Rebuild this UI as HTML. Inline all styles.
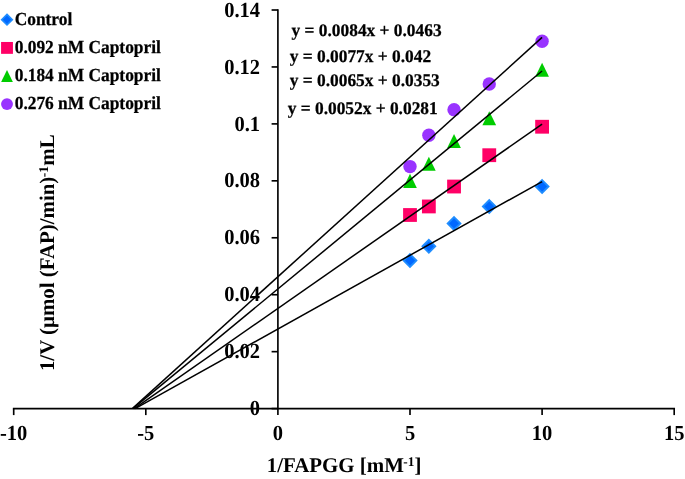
<!DOCTYPE html>
<html><head><meta charset="utf-8"><title>Lineweaver-Burk plot</title>
<style>
html,body{margin:0;padding:0;background:#fff}
svg{display:block;will-change:transform}
text{font-family:"Liberation Serif","Times New Roman",serif;font-weight:bold;fill:#000;text-rendering:geometricPrecision}
.ax{font-size:20.5px}
.lg{font-size:17.38px;stroke:#000;stroke-width:0.25px}
.tt{font-size:20.9px}
</style></head><body>
<svg width="685" height="479" viewBox="0 0 685 479">
<rect width="685" height="479" fill="#fff"/>
<g stroke="#000" stroke-width="1.65" fill="none">
<line x1="12.87" y1="408.60" x2="675.03" y2="408.60"/>
<line x1="277.90" y1="9.18" x2="277.90" y2="415.10"/>
<line x1="13.70" y1="408.60" x2="13.70" y2="415.10"/>
<line x1="145.80" y1="408.60" x2="145.80" y2="415.10"/>
<line x1="410.00" y1="408.60" x2="410.00" y2="415.10"/>
<line x1="542.10" y1="408.60" x2="542.10" y2="415.10"/>
<line x1="674.20" y1="408.60" x2="674.20" y2="415.10"/>
<line x1="271.60" y1="408.60" x2="277.90" y2="408.60"/>
<line x1="271.60" y1="351.66" x2="277.90" y2="351.66"/>
<line x1="271.60" y1="294.72" x2="277.90" y2="294.72"/>
<line x1="271.60" y1="237.77" x2="277.90" y2="237.77"/>
<line x1="271.60" y1="180.83" x2="277.90" y2="180.83"/>
<line x1="271.60" y1="123.89" x2="277.90" y2="123.89"/>
<line x1="271.60" y1="66.95" x2="277.90" y2="66.95"/>
<line x1="271.60" y1="10.01" x2="277.90" y2="10.01"/>
</g>
<text class="ax" transform="translate(13.70,439.65) scale(1,1.05)" text-anchor="middle">-10</text>
<text class="ax" transform="translate(145.80,439.65) scale(1,1.05)" text-anchor="middle">-5</text>
<text class="ax" transform="translate(277.90,439.65) scale(1,1.05)" text-anchor="middle">0</text>
<text class="ax" transform="translate(410.00,439.65) scale(1,1.05)" text-anchor="middle">5</text>
<text class="ax" transform="translate(542.10,439.65) scale(1,1.05)" text-anchor="middle">10</text>
<text class="ax" transform="translate(674.20,439.65) scale(1,1.05)" text-anchor="middle">15</text>
<text class="ax" transform="translate(260.0,414.60) scale(1,1.05)" text-anchor="end">0</text>
<text class="ax" transform="translate(260.0,357.80) scale(1,1.05)" text-anchor="end">0.02</text>
<text class="ax" transform="translate(260.0,301.00) scale(1,1.05)" text-anchor="end">0.04</text>
<text class="ax" transform="translate(260.0,244.20) scale(1,1.05)" text-anchor="end">0.06</text>
<text class="ax" transform="translate(260.0,187.40) scale(1,1.05)" text-anchor="end">0.08</text>
<text class="ax" transform="translate(260.0,130.60) scale(1,1.05)" text-anchor="end">0.1</text>
<text class="ax" transform="translate(260.0,73.81) scale(1,1.05)" text-anchor="end">0.12</text>
<text class="ax" transform="translate(260.0,17.01) scale(1,1.05)" text-anchor="end">0.14</text>
<path d="M410.00 254.19L416.36 260.55L410.00 266.91L403.64 260.55Z" fill="#0068ff" stroke="#1f8dff" stroke-width="1.90"/>
<path d="M428.86 239.96L435.22 246.32L428.86 252.67L422.51 246.32Z" fill="#0068ff" stroke="#1f8dff" stroke-width="1.90"/>
<path d="M454.04 217.18L460.40 223.54L454.04 229.90L447.69 223.54Z" fill="#0068ff" stroke="#1f8dff" stroke-width="1.90"/>
<path d="M489.26 200.10L495.62 206.46L489.26 212.81L482.90 206.46Z" fill="#0068ff" stroke="#1f8dff" stroke-width="1.90"/>
<path d="M542.10 180.17L548.46 186.53L542.10 192.88L535.74 186.53Z" fill="#0068ff" stroke="#1f8dff" stroke-width="1.90"/>
<rect x="403.10" y="208.10" width="13.80" height="13.80" fill="#ff0066"/>
<rect x="421.96" y="199.56" width="13.80" height="13.80" fill="#ff0066"/>
<rect x="447.14" y="179.63" width="13.80" height="13.80" fill="#ff0066"/>
<rect x="482.36" y="148.31" width="13.80" height="13.80" fill="#ff0066"/>
<rect x="535.20" y="119.84" width="13.80" height="13.80" fill="#ff0066"/>
<path d="M410.00 173.78L416.85 187.88L403.15 187.88Z" fill="#00cc00"/>
<path d="M428.86 156.70L435.71 170.80L422.01 170.80Z" fill="#00cc00"/>
<path d="M454.04 133.92L460.89 148.02L447.19 148.02Z" fill="#00cc00"/>
<path d="M489.26 111.15L496.11 125.25L482.41 125.25Z" fill="#00cc00"/>
<path d="M542.10 62.75L548.95 76.85L535.25 76.85Z" fill="#00cc00"/>
<circle cx="410.00" cy="166.60" r="6.70" fill="#9933ff"/>
<circle cx="428.86" cy="135.28" r="6.70" fill="#9933ff"/>
<circle cx="454.04" cy="109.65" r="6.70" fill="#9933ff"/>
<circle cx="489.26" cy="84.03" r="6.70" fill="#9933ff"/>
<circle cx="542.10" cy="41.32" r="6.70" fill="#9933ff"/>
<line x1="135.08" y1="408.60" x2="542.10" y2="181.57" stroke="#000" stroke-width="1.5"/>
<line x1="134.25" y1="408.60" x2="542.10" y2="124.10" stroke="#000" stroke-width="1.5"/>
<line x1="132.84" y1="408.60" x2="542.10" y2="70.99" stroke="#000" stroke-width="1.5"/>
<line x1="132.59" y1="408.35" x2="542.10" y2="37.40" stroke="#000" stroke-width="1.5"/>
<path d="M7.00 14.34L12.31 19.65L7.00 24.96L1.69 19.65Z" fill="#0068ff" stroke="#1f8dff" stroke-width="1.59"/>
<text class="lg" transform="translate(14.7,25.00) scale(1,1.06)">Control</text>
<rect x="1.07" y="41.97" width="11.87" height="11.87" fill="#ff0066"/>
<text class="lg" transform="translate(14.7,53.10) scale(1,1.06)">0.092 nM Captopril</text>
<path d="M7.00 69.94L12.89 82.06L1.11 82.06Z" fill="#00cc00"/>
<text class="lg" transform="translate(14.7,81.30) scale(1,1.06)">0.184 nM Captopril</text>
<circle cx="7.00" cy="104.10" r="5.96" fill="#9933ff"/>
<text class="lg" transform="translate(14.7,109.35) scale(1,1.06)">0.276 nM Captopril</text>
<text class="lg" transform="translate(291.60,35.50) scale(1,1.025)">y = 0.0084x + 0.0463</text>
<text class="lg" transform="translate(289.80,62.30) scale(1,1.025)">y = 0.0077x + 0.042</text>
<text class="lg" transform="translate(289.80,86.30) scale(1,1.025)">y = 0.0065x + 0.0353</text>
<text class="lg" transform="translate(287.70,114.40) scale(1,1.025)">y = 0.0052x + 0.0281</text>
<text class="tt" x="266.8" y="471.9">1/FAPGG [mM<tspan dy="-6.3" dx="-0.6" font-size="13.3">-1</tspan><tspan dy="6.3">]</tspan></text>
<text class="tt" transform="translate(54.4,371.1) rotate(-90)">1/V (μmol (FAP)/min)<tspan dy="-6.3" dx="-0.6" font-size="13.3">-1</tspan><tspan dy="6.3" dx="0.5">mL</tspan></text>
</svg></body></html>
